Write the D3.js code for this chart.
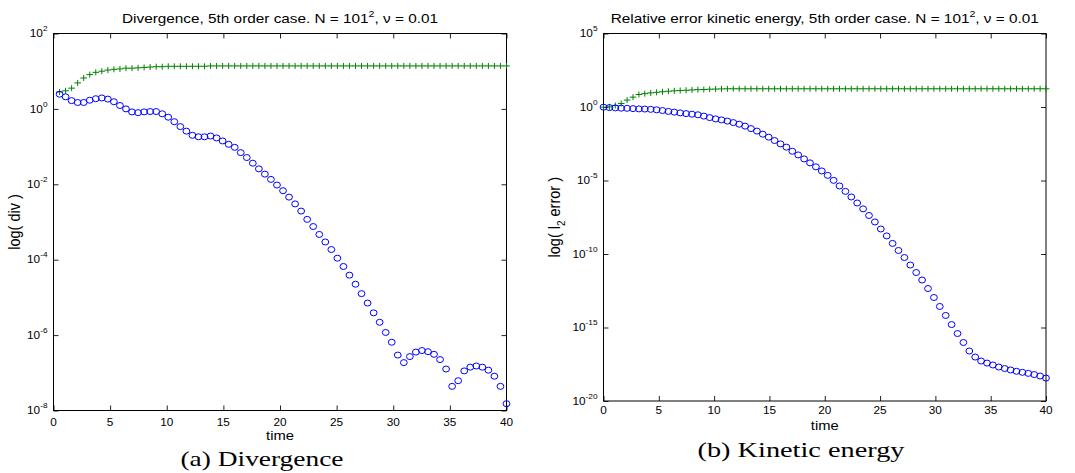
<!DOCTYPE html>
<html>
<head>
<meta charset="utf-8">
<script src="https://cdn.jsdelivr.net/npm/d3@7"></script>
<style>
  body { margin: 0; background: #fff; }
  svg { display: block; }
</style>
</head>
<body>
<svg id="svg" width="1075" height="473"></svg>
<script>
// time steps (t = 0 .. 40)
const timeSteps = [0, 0.533, 1.067, 1.6, 2.133, 2.667, 3.2, 3.733, 4.267, 4.8, 5.333, 5.867, 6.4, 6.933, 7.467, 8,
  8.533, 9.067, 9.6, 10.133, 10.667, 11.2, 11.733, 12.267, 12.8, 13.333, 13.867, 14.4, 14.933, 15.467, 16,
  16.533, 17.067, 17.6, 18.133, 18.667, 19.2, 19.733, 20.267, 20.8, 21.333, 21.867, 22.4, 22.933, 23.467, 24,
  24.533, 25.067, 25.6, 26.133, 26.667, 27.2, 27.733, 28.267, 28.8, 29.333, 29.867, 30.4, 30.933, 31.467, 32,
  32.533, 33.067, 33.6, 34.133, 34.667, 35.2, 35.733, 36.267, 36.8, 37.333, 37.867, 38.4, 38.933, 39.467, 40];

// (a) divergence, log10 of the values, starts at the 2nd time step
const divCircleExp = [0.39, 0.32, 0.22, 0.17, 0.17, 0.23, 0.27, 0.29, 0.26, 0.19,
  0.09, 0.00, -0.08, -0.10, -0.08, -0.07, -0.07, -0.13, -0.22, -0.34,
  -0.47, -0.59, -0.70, -0.74, -0.74, -0.72, -0.77, -0.85, -0.94, -1.02,
  -1.16, -1.29, -1.44, -1.59, -1.73, -1.87, -2.02, -2.17, -2.34, -2.52,
  -2.71, -2.93, -3.12, -3.33, -3.53, -3.73, -3.96, -4.18, -4.41, -4.65,
  -4.90, -5.15, -5.41, -5.66, -5.93, -6.19, -6.53, -6.73, -6.57, -6.45,
  -6.41, -6.44, -6.51, -6.65, -6.90, -7.36, -7.21, -6.95, -6.85, -6.82,
  -6.85, -6.93, -7.09, -7.36, -7.82];
const divPlusExp = [0.45, 0.48, 0.55, 0.69, 0.82, 0.91, 0.97, 1.00, 1.03, 1.05,
  1.06, 1.08, 1.08, 1.09, 1.10, 1.11, 1.12, 1.12, 1.13, 1.13,
  1.13, 1.13, 1.13, 1.13, 1.13, 1.14, 1.14, 1.14, 1.14, 1.14,
  1.14, 1.14, 1.14, 1.14, 1.14, 1.14, 1.14, 1.14, 1.14, 1.14,
  1.14, 1.14, 1.14, 1.14, 1.14, 1.14, 1.14, 1.14, 1.14, 1.14,
  1.14, 1.14, 1.14, 1.14, 1.14, 1.14, 1.14, 1.14, 1.14, 1.14,
  1.14, 1.14, 1.14, 1.14, 1.14, 1.14, 1.14, 1.14, 1.14, 1.14,
  1.14, 1.14, 1.14, 1.14, 1.14];

// (b) kinetic energy, log10 of the relative l2 error, all time steps
const keCircleExp = [-0.01, -0.04, -0.06, -0.08, -0.09, -0.11, -0.13, -0.14, -0.16, -0.19,
  -0.24, -0.30, -0.35, -0.40, -0.45, -0.49, -0.53, -0.62, -0.72, -0.81,
  -0.88, -0.96, -1.06, -1.17, -1.30, -1.47, -1.64, -1.85, -2.05, -2.28,
  -2.51, -2.73, -3.01, -3.26, -3.53, -3.80, -4.07, -4.35, -4.65, -4.99,
  -5.37, -5.74, -6.12, -6.53, -6.93, -7.38, -7.82, -8.30, -8.77, -9.28,
  -9.76, -10.24, -10.75, -11.26, -11.77, -12.35, -12.96, -13.57, -14.18, -14.80,
  -15.41, -16.02, -16.60, -17.01, -17.28, -17.42, -17.55, -17.69, -17.79, -17.89,
  -17.98, -18.05, -18.12, -18.20, -18.30, -18.44];
const kePlusExp = [-0.01, 0.01, 0.10, 0.24, 0.47, 0.67, 0.85, 0.91, 0.96, 1.00,
  1.04, 1.07, 1.10, 1.12, 1.14, 1.16, 1.18, 1.19, 1.21, 1.22,
  1.23, 1.24, 1.24, 1.24, 1.24, 1.24, 1.24, 1.24, 1.24, 1.24,
  1.24, 1.24, 1.24, 1.24, 1.24, 1.24, 1.24, 1.24, 1.24, 1.24,
  1.24, 1.24, 1.24, 1.24, 1.24, 1.24, 1.24, 1.24, 1.24, 1.24,
  1.24, 1.24, 1.24, 1.24, 1.24, 1.24, 1.24, 1.24, 1.24, 1.24,
  1.24, 1.24, 1.24, 1.24, 1.24, 1.24, 1.24, 1.24, 1.24, 1.24,
  1.24, 1.24, 1.24, 1.24, 1.24, 1.24];

const xTicks = [0, 5, 10, 15, 20, 25, 30, 35, 40];
const divYTickExp = [-8, -6, -4, -2, 0, 2];
const keYTickExp = [-20, -15, -10, -5, 0, 5];

const svg = d3.select("#svg");
const SX = 1.18;   // the picture is stretched sideways
const FONT = "'Liberation Sans', Arial, Helvetica, sans-serif";

function stretchText(parent, x, y, size, anchor) {
  return parent.append("text")
    .attr("transform", `translate(${x},${y}) scale(${SX},1)`)
    .attr("text-anchor", anchor)
    .attr("font-family", FONT)
    .attr("font-size", size)
    .attr("fill", "#000");
}

function drawPanel(cfg) {
  const g = svg.append("g");
  const x = d3.scaleLinear().domain([0, 40]).range([cfg.left, cfg.right]);
  const y = d3.scaleLog().domain(cfg.yDomain).range([cfg.bottom, cfg.top]);
  const yTicks = cfg.yTickExp.map(e => Math.pow(10, e));

  // inward ticks on all four sides
  const noDomain = s => s.select(".domain").remove();
  g.append("g").attr("transform", `translate(0,${cfg.bottom})`)
    .call(d3.axisBottom(x).tickValues(xTicks).tickSize(-5).tickFormat("")).call(noDomain);
  g.append("g").attr("transform", `translate(0,${cfg.top})`)
    .call(d3.axisTop(x).tickValues(xTicks).tickSize(-5).tickFormat("")).call(noDomain);
  g.append("g").attr("transform", `translate(${cfg.left},0)`)
    .call(d3.axisLeft(y).tickValues(yTicks).tickSize(-5).tickFormat("")).call(noDomain);
  g.append("g").attr("transform", `translate(${cfg.right},0)`)
    .call(d3.axisRight(y).tickValues(yTicks).tickSize(-5).tickFormat("")).call(noDomain);
  g.selectAll(".tick line").attr("stroke", "#222");

  g.append("rect")
    .attr("x", cfg.left).attr("y", cfg.top)
    .attr("width", cfg.right - cfg.left).attr("height", cfg.bottom - cfg.top)
    .attr("fill", "none").attr("stroke", "#000").attr("stroke-width", 1);

  // tick labels
  xTicks.forEach(t => {
    stretchText(g, x(t), cfg.bottom + cfg.xLblOff, 10, "middle").text(t);
  });
  cfg.yTickExp.forEach(e => {
    const tx = stretchText(g, cfg.left - 6, y(Math.pow(10, e)) + 3.6, 10, "end");
    tx.append("tspan").text("10");
    tx.append("tspan").attr("dy", -6).attr("font-size", 7).text(e);
  });

  // data: pluses then circles
  const plusData = cfg.plusExp.map((e, i) => ({ t: cfg.time[i], v: Math.pow(10, e) }));
  const circData = cfg.circleExp.map((e, i) => ({ t: cfg.time[i], v: Math.pow(10, e) }));

  g.append("g").selectAll("path")
    .data(plusData)
    .join("path")
    .attr("transform", d => `translate(${x(d.t)},${y(d.v)})`)
    .attr("d", "M-3.3,0H3.3M0,-3V3")
    .attr("stroke", "#008000")
    .attr("stroke-width", 1)
    .attr("fill", "none");

  g.append("g").selectAll("ellipse")
    .data(circData)
    .join("ellipse")
    .attr("cx", d => x(d.t))
    .attr("cy", d => y(d.v))
    .attr("rx", 3.4)
    .attr("ry", 3)
    .attr("fill", "none")
    .attr("stroke", "#0000ff")
    .attr("stroke-width", 1);

  // title
  const mid = (cfg.left + cfg.right) / 2;
  const tt = stretchText(g, mid, 22.7, 13, "middle");
  tt.append("tspan").text(cfg.titleA);
  tt.append("tspan").attr("dy", -6).attr("font-size", 9).text("2");
  tt.append("tspan").attr("dy", 6).text(", \u03bd = 0.01");

  // axis labels
  stretchText(g, mid, cfg.timeY, 12.5, "middle").text("time");
  const yl = g.append("text")
    .attr("transform", `translate(${cfg.yLblX},${(cfg.top + cfg.bottom) / 2}) scale(${SX},1) rotate(-90)`)
    .attr("text-anchor", "middle")
    .attr("font-family", FONT)
    .attr("font-size", 14.5);
  cfg.yLabel(yl);

  // caption
  g.append("text")
    .attr("x", cfg.capX).attr("y", cfg.capY)
    .attr("text-anchor", "middle")
    .attr("font-family", "'Liberation Serif', 'Times New Roman', serif")
    .attr("font-size", 21)
    .attr("textLength", cfg.capW)
    .attr("lengthAdjust", "spacingAndGlyphs")
    .text(cfg.caption);
}

drawPanel({
  left: 53.5, right: 506.5, top: 33.5, bottom: 410.5,
  yDomain: [1e-8, 1e2], yTickExp: divYTickExp,
  time: timeSteps.slice(1), circleExp: divCircleExp, plusExp: divPlusExp,
  xLblOff: 15, timeY: 440,
  titleA: "Divergence, 5th order case. N = 101",
  yLblX: 20,
  yLabel: t => t.text("log( div )"),
  caption: "(a)  Divergence", capX: 262, capY: 466, capW: 163
});

drawPanel({
  left: 603.5, right: 1046, top: 33.5, bottom: 401,
  yDomain: [1e-20, 1e5], yTickExp: keYTickExp,
  time: timeSteps, circleExp: keCircleExp, plusExp: kePlusExp,
  xLblOff: 12.5, timeY: 430,
  titleA: "Relative error kinetic energy, 5th order case. N = 101",
  yLblX: 560,
  yLabel: t => {
    t.append("tspan").text("log( l");
    t.append("tspan").attr("dy", 4).attr("font-size", 10).text("2");
    t.append("tspan").attr("dy", -4).text(" error )");
  },
  caption: "(b)  Kinetic energy", capX: 801, capY: 457, capW: 207
});
</script>
</body>
</html>
